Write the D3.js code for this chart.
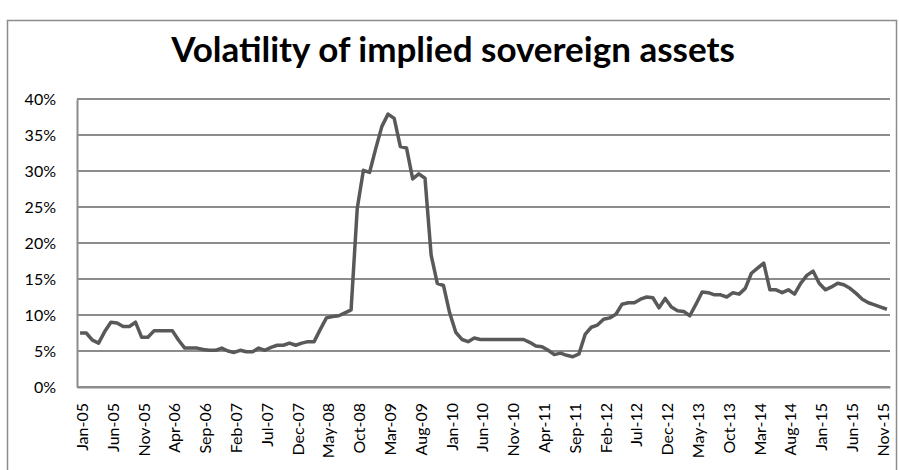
<!DOCTYPE html>
<html>
<head>
<meta charset="utf-8">
<script src="https://cdn.jsdelivr.net/npm/d3@7"></script>
<style>
  body { margin: 0; background: #fff; }
  text { font-family: Lato, "Open Sans", sans-serif; fill: #000; }
</style>
</head>
<body>
<div id="chart"></div>
<script>
// Monthly series, Jan-05 .. Dec-15 (percent)
const values2005 = [7.5, 7.5, 6.5, 6.1, 7.7, 9.0, 8.9, 8.4, 8.4, 9.0, 6.9, 6.9];
const values2006 = [7.8, 7.8, 7.8, 7.8, 6.5, 5.4, 5.4, 5.4, 5.2, 5.1, 5.1, 5.4];
const values2007 = [5.0, 4.8, 5.1, 4.9, 4.9, 5.4, 5.1, 5.5, 5.8, 5.8, 6.1, 5.8];
const values2008 = [6.1, 6.3, 6.3, 8.0, 9.6, 9.8, 9.9, 10.3, 10.7, 24.8, 30.1, 29.8];
const values2009 = [33.1, 36.2, 37.9, 37.3, 33.4, 33.2, 28.9, 29.6, 29.0, 18.3, 14.4, 14.1];
const values2010 = [10.3, 7.6, 6.6, 6.3, 6.8, 6.6, 6.6, 6.6, 6.6, 6.6, 6.6, 6.6];
const values2011 = [6.6, 6.2, 5.7, 5.6, 5.1, 4.5, 4.7, 4.4, 4.2, 4.6, 7.3, 8.3];
const values2012 = [8.6, 9.4, 9.6, 10.1, 11.5, 11.7, 11.7, 12.2, 12.5, 12.4, 11.0, 12.3];
const values2013 = [11.1, 10.6, 10.5, 9.9, 11.5, 13.2, 13.1, 12.8, 12.8, 12.5, 13.1, 12.9];
const values2014 = [13.7, 15.8, 16.5, 17.2, 13.5, 13.5, 13.1, 13.5, 12.9, 14.4, 15.5, 16.1];
const values2015 = [14.4, 13.5, 13.9, 14.4, 14.2, 13.7, 13.0, 12.2, 11.7, 11.4, 11.1, 10.8];

const tickLabels = ["Jan-05", "Jun-05", "Nov-05", "Apr-06", "Sep-06", "Feb-07", "Jul-07",
  "Dec-07", "May-08", "Oct-08", "Mar-09", "Aug-09", "Jan-10", "Jun-10", "Nov-10", "Apr-11",
  "Sep-11", "Feb-12", "Jul-12", "Dec-12", "May-13", "Oct-13", "Mar-14", "Aug-14", "Jan-15",
  "Jun-15", "Nov-15"];
const yTicks = [0, 0.05, 0.1, 0.15, 0.2, 0.25, 0.3, 0.35, 0.4];
const title = "Volatility of implied sovereign assets";

const values = [].concat(values2005, values2006, values2007, values2008, values2009,
  values2010, values2011, values2012, values2013, values2014, values2015);

// category labels, one per month
const fmt = d3.timeFormat("%b-%y");
const months = d3.timeMonth.range(new Date(2005, 0, 1), new Date(2016, 0, 1)).map(fmt);
const data = months.map((m, i) => ({ month: m, value: values[i] / 100 }));

const width = 899;
const height = 470;
const margin = { top: 99, right: 9, bottom: 83, left: 77 };

const svg = d3.select("#chart").append("svg")
  .attr("width", width)
  .attr("height", height);

// chart border
svg.append("rect")
  .attr("x", 7.5).attr("y", 20.5)
  .attr("width", 889).attr("height", 470)
  .attr("fill", "none")
  .attr("stroke", "#8c8c8c")
  .attr("stroke-width", 1.5);

const xScale = d3.scalePoint()
  .domain(months)
  .range([margin.left, width - margin.right])
  .padding(0.5);

const yScale = d3.scaleLinear()
  .domain([0, 0.4])
  .range([height - margin.bottom, margin.top]);

// Title
svg.append("text")
  .attr("x", 453)
  .attr("y", 62)
  .attr("text-anchor", "middle")
  .style("font-size", "35px")
  .style("font-weight", "bold")
  .text(title);

// Gridlines
svg.append("g")
  .selectAll("line")
  .data(yTicks)
  .join("line")
  .attr("x1", margin.left)
  .attr("x2", width - margin.right)
  .attr("y1", (d) => yScale(d))
  .attr("y2", (d) => yScale(d))
  .attr("stroke", "#8c8c8c")
  .attr("stroke-width", 2);

// Y axis
const yAxis = svg.append("g")
  .attr("transform", `translate(${margin.left}, 0)`)
  .call(d3.axisLeft(yScale).tickValues(yTicks).tickFormat(d3.format(".0%")).tickSize(0).tickPadding(21));
yAxis.select(".domain").attr("stroke", "#8c8c8c").attr("stroke-width", 2);
yAxis.selectAll("text")
  .style("font-size", "16px")
  .style("font-family", "Lato, sans-serif")
  .attr("fill", "#000");

// X axis
const xAxis = svg.append("g")
  .attr("transform", `translate(0, ${height - margin.bottom})`)
  .call(d3.axisBottom(xScale).tickValues(tickLabels).tickSize(0));
xAxis.select(".domain").attr("stroke", "#8c8c8c").attr("stroke-width", 2);
xAxis.selectAll("text")
  .style("font-size", "16px")
  .style("font-family", "Lato, sans-serif")
  .attr("fill", "#000")
  .attr("text-anchor", "end")
  .attr("dominant-baseline", "central")
  .attr("dy", null)
  .attr("transform", "rotate(-90)")
  .attr("x", -16)
  .attr("y", 1);

// Line
const line = d3.line()
  .x((d) => xScale(d.month))
  .y((d) => yScale(d.value));

svg.append("path")
  .datum(data)
  .attr("fill", "none")
  .attr("stroke", "#595959")
  .attr("stroke-width", 3.5)
  .attr("stroke-linejoin", "round")
  .attr("d", line);
</script>
</body>
</html>
